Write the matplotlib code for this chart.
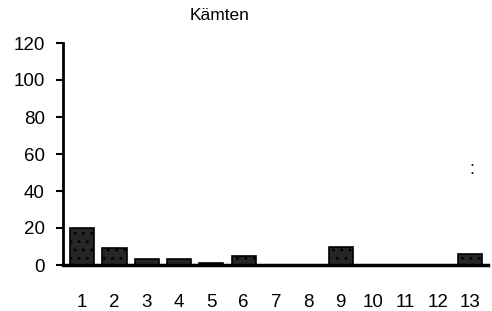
import matplotlib
matplotlib.use("Agg")
import matplotlib.pyplot as plt

plt.rcParams['font.family'] = ['Liberation Sans', 'DejaVu Sans']
plt.rcParams['hatch.color'] = '#5a5a5a'
plt.rcParams['hatch.linewidth'] = 0.8

categories = [str(i) for i in range(1, 14)]
values = [20, 9, 3, 3, 1, 5, 0, 0, 10, 0, 0, 0, 6]
yticks = [0, 20, 40, 60, 80, 100, 120]
title = "Kämten"

fig = plt.figure(figsize=(4.92, 3.11), dpi=100)
ax = fig.add_axes([63/492, 1-265/311, (488-63)/492, (265-43)/311])

pos = list(range(1, len(categories) + 1))
ax.bar(pos, values, width=0.75, color='#262626', edgecolor='black',
       linewidth=1.2, hatch='..', zorder=2)

ax.set_xlim(0.41, 13.56)
ax.set_ylim(0, 120)
ax.set_yticks(yticks)
ax.set_yticklabels([str(t) for t in yticks], fontsize=13.5)
ax.set_xticks(pos)
ax.set_xticklabels(categories, fontsize=13.5)
ax.tick_params(axis='x', length=0, pad=21)
ax.tick_params(axis='y', direction='out', length=5, width=1.5, pad=8)

for s in ['top', 'right']:
    ax.spines[s].set_visible(False)
ax.spines['left'].set_linewidth(2)
ax.spines['bottom'].set_linewidth(2.5)

fig.text(220/492, 1-16/311, title, ha='center', va='center', fontsize=12.5)
fig.text(472/492, 1-170/311, ':', ha='center', va='center', fontsize=13)

fig.savefig('out.png', dpi=100)
